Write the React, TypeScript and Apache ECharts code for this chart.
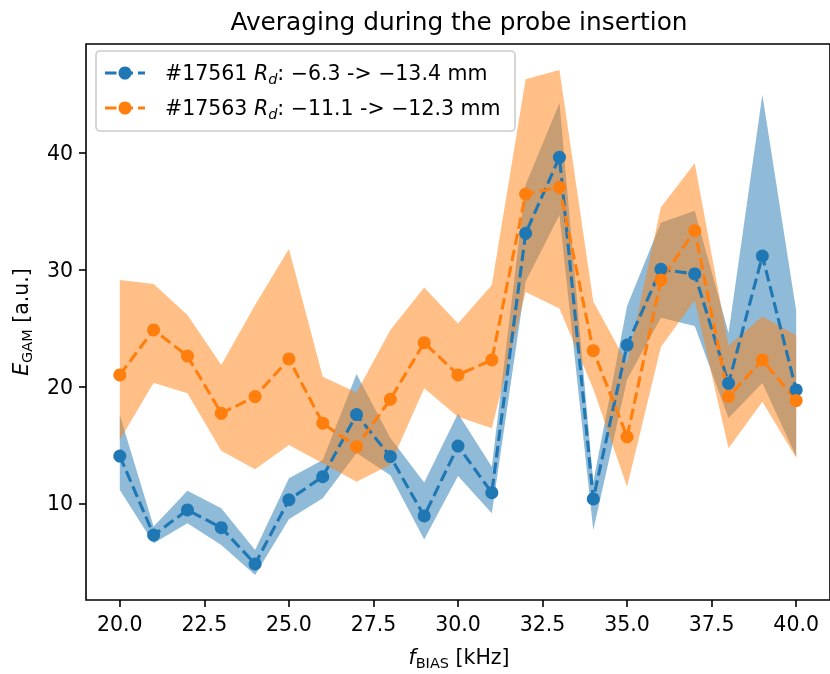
import React, { useEffect, useRef } from "react";
import * as echarts from "echarts";

// ---- data ----
const fBias = [20, 21, 22, 23, 24, 25, 26, 27, 28, 29, 30, 31, 32, 33, 34, 35, 36, 37, 38, 39, 40];

const blueMean = [14.05, 7.28, 9.43, 7.91, 4.8, 10.3, 12.28, 17.6, 14.0, 8.91, 14.9, 10.91, 33.14, 39.65, 10.37, 23.56, 30.05, 29.65, 20.28, 31.19, 19.71];
const blueUpper = [17.57, 8.0, 11.08, 9.57, 6.0, 12.14, 13.71, 21.08, 15.6, 11.77, 17.7, 13.14, 37.3, 44.3, 11.8, 26.9, 34.05, 35.07, 24.6, 45.0, 26.5];
const blueLower = [11.14, 6.57, 8.29, 6.43, 3.86, 8.63, 10.43, 14.3, 12.4, 6.9, 12.34, 9.14, 29.0, 34.7, 7.7, 20.6, 25.9, 25.2, 17.3, 20.3, 14.0];

const orangeMean = [21.0, 24.86, 22.62, 17.71, 19.14, 22.37, 16.86, 14.85, 18.91, 23.76, 21.0, 22.28, 36.5, 37.08, 23.08, 15.7, 29.13, 33.36, 19.14, 22.28, 18.8];
const orangeUpper = [29.13, 28.79, 26.13, 21.85, 27.0, 31.8, 20.85, 19.5, 24.86, 28.5, 25.4, 28.7, 46.33, 47.13, 27.3, 22.0, 35.36, 39.13, 23.5, 26.0, 24.4];
const orangeLower = [15.42, 20.33, 19.43, 14.51, 12.91, 15.0, 13.43, 11.85, 13.3, 19.85, 17.42, 16.43, 28.1, 26.7, 19.8, 11.42, 23.4, 27.4, 14.71, 18.7, 13.9];

const xTickValues = [20, 22.5, 25, 27.5, 30, 32.5, 35, 37.5, 40];
const xTickLabels = ["20.0", "22.5", "25.0", "27.5", "30.0", "32.5", "35.0", "37.5", "40.0"];
const yTickValues = [10, 20, 30, 40];
const yTickLabels = ["10", "20", "30", "40"];

const titleText = "Averaging during the probe insertion";
const legendLabels = ["#17561 {i|R}{si|d}: \u22126.3 -> \u221213.4 mm", "#17563 {i|R}{si|d}: \u221211.1 -> \u221212.3 mm"];

const BLUE = "#1f77b4";
const ORANGE = "#ff7f0e";
const FONT = "DejaVu Sans";
const FS = 20.5;
const DASH = [11.5, 5];

const GRID = { left: 86, top: 44, width: 745, height: 556 };

function bandSeries(lower: number[], upper: number[], color: string) {
  return {
    type: "custom",
    coordinateSystem: "cartesian2d",
    data: fBias.map((x, i) => [x, lower[i], upper[i]]),
    encode: { x: 0, y: [1, 2] },
    clip: true,
    silent: true,
    renderItem: (params: any, api: any) => {
      if (params.dataIndex !== 0) return null;
      const top = fBias.map((x, i) => api.coord([x, upper[i]]));
      const bot = fBias.map((x, i) => api.coord([x, lower[i]])).reverse();
      return {
        type: "polygon",
        shape: { points: top.concat(bot) },
        style: { fill: color },
      };
    },
  };
}

function lineSeries(mean: number[], color: string) {
  return {
    type: "line",
    data: fBias.map((x, i) => [x, mean[i]]),
    symbol: "circle",
    symbolSize: 13,
    showSymbol: true,
    lineStyle: { color, width: 3.1, type: DASH },
    itemStyle: { color, borderWidth: 0 },
    silent: true,
  };
}

const richBase = {
  i: { fontStyle: "italic", fontFamily: FONT, fontSize: FS, fill: "#000", color: "#000", lineHeight: 26 },
  s: { fontFamily: FONT, fontSize: 14.5, verticalAlign: "bottom", lineHeight: 16, fill: "#000", color: "#000" },
  si: { fontStyle: "italic", fontFamily: FONT, fontSize: 14.5, verticalAlign: "bottom", lineHeight: 16, fill: "#000", color: "#000" },
};

function txt(x: number, y: number, text: string, extra: any = {}, rotation = 0) {
  return {
    type: "text",
    x,
    y,
    rotation,
    z: 100,
    silent: true,
    style: {
      text,
      fontFamily: FONT,
      fontSize: FS,
      fill: "#000",
      align: "center",
      verticalAlign: "middle",
      textAlign: "center",
      textVerticalAlign: "middle",
      lineHeight: 26,
      rich: richBase,
      ...extra,
    },
  };
}

export default function App() {
  const ref = useRef<HTMLDivElement>(null);
  useEffect(() => {
    if (!ref.current) return;
    const chart = echarts.init(ref.current, null, { renderer: "svg" });
    const legendY = [73, 108];
    const legendColors = [BLUE, ORANGE];
    const legendEls: any[] = [
      {
        type: "rect",
        z: 99,
        silent: true,
        shape: { x: 96, y: 51, width: 419, height: 80, r: 4 },
        style: { fill: "rgba(255,255,255,0.8)", stroke: "#cccccc", lineWidth: 1.6 },
      },
    ];
    legendY.forEach((y, k) => {
      legendEls.push({
        type: "line",
        z: 100,
        silent: true,
        shape: { x1: 105, y1: y, x2: 145, y2: y },
        style: { stroke: legendColors[k], lineWidth: 3.1, lineDash: DASH },
      });
      legendEls.push({
        type: "circle",
        z: 101,
        silent: true,
        shape: { cx: 125, cy: y, r: 6.5 },
        style: { fill: legendColors[k] },
      });
      legendEls.push(txt(165, y, legendLabels[k], { align: "left", textAlign: "left" }));
    });

    chart.setOption({
      animation: false,
      grid: { ...GRID, show: true, borderColor: "#000", borderWidth: 1.6, backgroundColor: "transparent", containLabel: false },
      xAxis: {
        type: "value",
        min: 19,
        max: 41,
        axisLine: { show: false },
        splitLine: { show: false },
        axisTick: { show: true, length: 7, lineStyle: { color: "#000", width: 1.6 }, customValues: xTickValues },
        axisLabel: {
          customValues: xTickValues,
          margin: 13,
          fontFamily: FONT,
          fontSize: FS,
          color: "#000",
          formatter: (v: number) => xTickLabels[xTickValues.indexOf(v)] ?? "",
        },
      },
      yAxis: {
        type: "value",
        min: 1.71,
        max: 49.36,
        axisLine: { show: false },
        splitLine: { show: false },
        axisTick: { show: true, length: 7, lineStyle: { color: "#000", width: 1.6 }, customValues: yTickValues },
        axisLabel: {
          customValues: yTickValues,
          margin: 13,
          fontFamily: FONT,
          fontSize: FS,
          color: "#000",
          formatter: (v: number) => yTickLabels[yTickValues.indexOf(v)] ?? "",
        },
      },
      series: [
        bandSeries(blueLower, blueUpper, "rgba(31,119,180,0.5)"),
        bandSeries(orangeLower, orangeUpper, "rgba(255,127,14,0.5)"),
        lineSeries(blueMean, BLUE),
        lineSeries(orangeMean, ORANGE),
      ],
      graphic: {
        elements: [
          txt(459, 21, titleText, { fontSize: 24.8, lineHeight: 30 }),
          txt(459, 657, "{i|f}{s|BIAS} [kHz]"),
          txt(21, 322, "{i|E}{s|GAM} [a.u.]", {}, Math.PI / 2),
          ...legendEls,
        ],
      },
    });
    return () => chart.dispose();
  }, []);
  return <div ref={ref} style={{ position: "fixed", left: 0, top: 0, width: 830, height: 674 }} />;
}
